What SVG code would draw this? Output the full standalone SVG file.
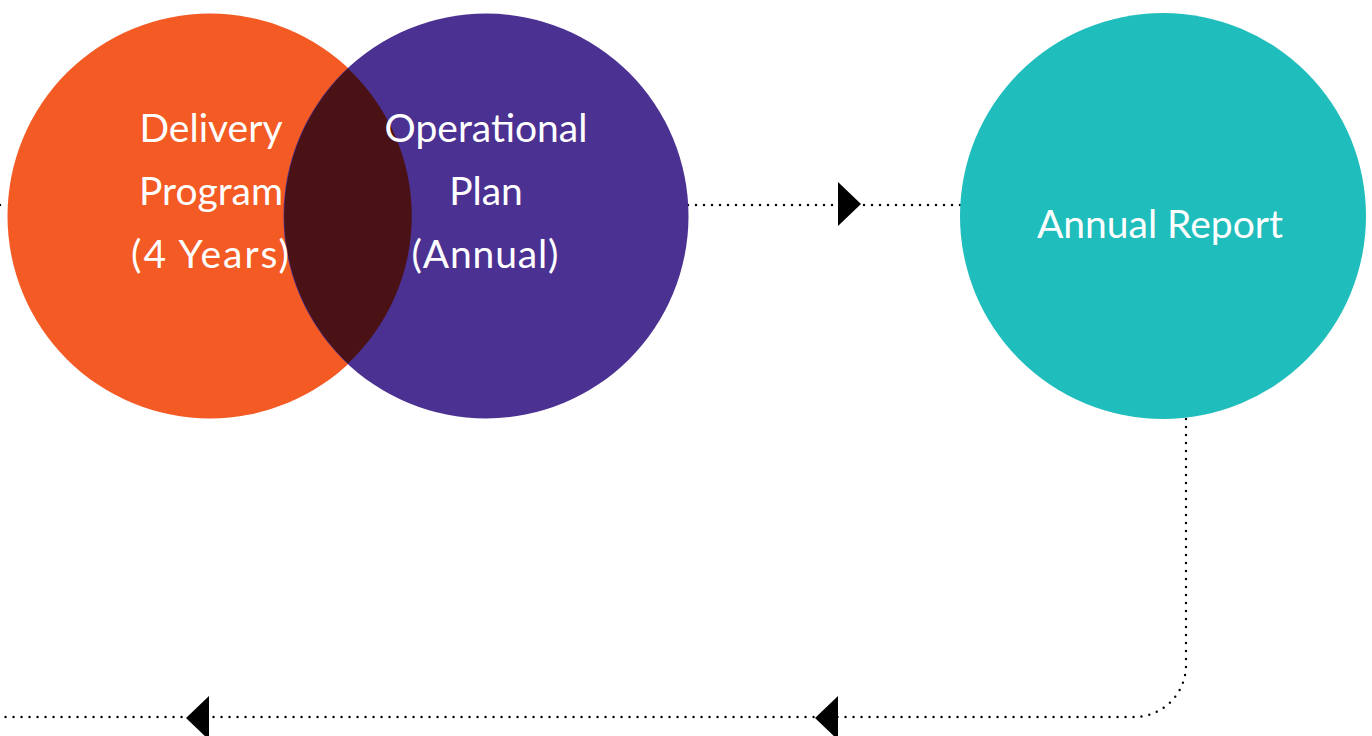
<svg xmlns="http://www.w3.org/2000/svg" width="1372" height="736" viewBox="0 0 1372 736">
<style>
.dot{fill:none;stroke:#000;stroke-width:2.4;stroke-linecap:round;stroke-dasharray:0 8}
.lbl{font-family:Lato,"Open Sans","Liberation Sans",sans-serif;font-size:39px;fill:#fff;text-anchor:middle}
.arr{fill:#000}
</style>
<rect width="1372" height="736" fill="#fff"/>
<g id="connectors">
<path class="dot" d="M0 205 H8"/>
<path class="dot" d="M688 205 H964"/>
<polygon class="arr" points="838,182 861,204 838,226"/>
<path class="dot" d="M1186 419 V665 A52 52 0 0 1 1134 717 H0"/>
<polygon class="arr" points="838,696 815,718 838,740"/>
<polygon class="arr" points="209,696 186,718 209,740"/>
</g>
<g id="delivery-program">
<circle cx="210" cy="216" r="202.5" fill="#F35A24"/>
</g>
<g id="operational-plan">
<circle cx="486" cy="216" r="202.5" fill="#4B3192"/>
</g>
<g id="overlap">
<path d="M348 68.5 A202.5 202.5 0 0 0 348 363.5 A202.5 202.5 0 0 0 348 68.5 Z" fill="#4A1214"/>
</g>
<g id="delivery-text">
<text class="lbl" x="211" y="142">Delivery</text>
<text class="lbl" x="211" y="205">Program</text>
<text class="lbl" x="210" y="268" textLength="158" lengthAdjust="spacing">(4 Years)</text>
</g>
<g id="operational-text">
<text class="lbl" x="486" y="142">Operational</text>
<text class="lbl" x="486" y="205">Plan</text>
<text class="lbl" x="485" y="268" textLength="147" lengthAdjust="spacing">(Annual)</text>
</g>
<g id="annual-report">
<circle cx="1163" cy="216" r="203" fill="#1FBDBC"/>
<text class="lbl" x="1160" y="238">Annual Report</text>
</g>
</svg>
